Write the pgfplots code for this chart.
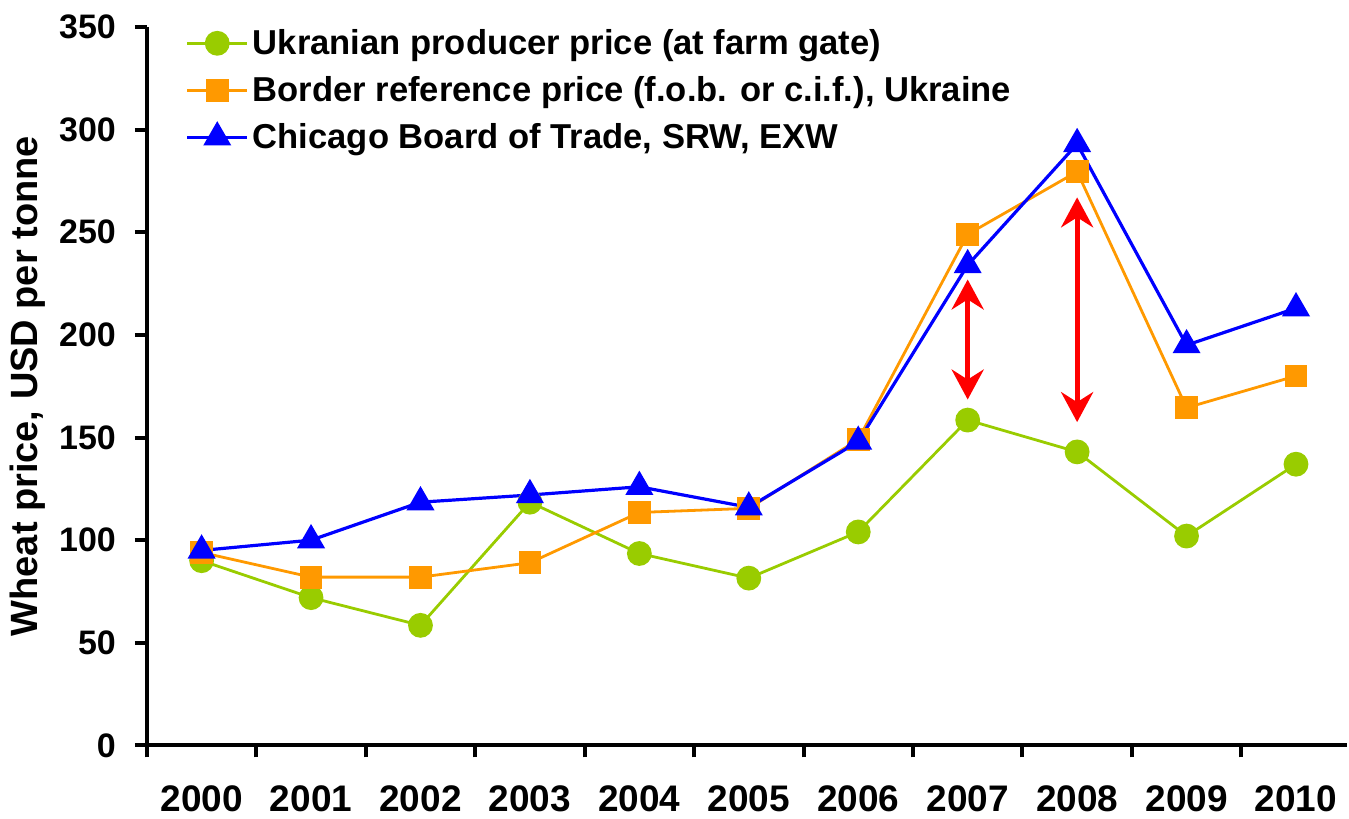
\documentclass[border=0pt]{standalone}
\usepackage{fontspec}
\setmainfont{Liberation Sans}
\usepackage{pgfplots}
\pgfplotsset{compat=1.18}
\usetikzlibrary{arrows.meta}
\definecolor{cgreen}{RGB}{153,204,0}
\definecolor{corange}{RGB}{255,153,0}
\definecolor{cblue}{RGB}{0,0,255}
\definecolor{cred}{RGB}{255,0,0}
\begin{document}
\begin{tikzpicture}
\begin{axis}[
  scale only axis, width=600.5pt, height=359.5pt,
  xmin=-0.5, xmax=10.466, ymin=0, ymax=350,
  axis x line=bottom, axis y line=left,
  axis line style={-, line width=2pt},
  xtick={0,1,2,3,4,5,6,7,8,9,10},
  xticklabels={2000,2001,2002,2003,2004,2005,2006,2007,2008,2009,2010},
  minor xtick={-0.5,0.5,1.5,2.5,3.5,4.5,5.5,6.5,7.5,8.5,9.5},
  ytick={0,50,100,150,200,250,300,350},
  tick align=outside,
  major tick length=6pt, minor tick length=6pt,
  tick style={line width=2pt, black},
  every major x tick/.append style={draw=none},
  yticklabel style={font=\fontsize{17}{20}\selectfont\bfseries, xshift=-6pt},
  xticklabel style={font=\fontsize{18.5}{21}\selectfont\bfseries, yshift=-10.5pt},
  /pgf/number format/assume math mode=true,
  ylabel={Wheat price, USD per tonne},
  ylabel style={font=\fontsize{19}{22}\selectfont\bfseries},
  clip=false,
  legend style={at={(axis description cs:0.027,1.0085)}, anchor=north west,
    draw=none, fill=none, font=\fontsize{17.3}{21}\selectfont\bfseries,
    row sep=5.5pt},
  legend cell align=left,
  legend image code/.code={\draw[mark repeat=2,mark phase=2] plot coordinates {(0pt,0pt) (15pt,0pt) (30pt,0pt)};},
]
\addplot[cgreen, line width=1.4pt, mark=*, mark size=5.5pt, mark options={fill=cgreen, draw=cgreen, solid}]
  coordinates {(0,90) (1,72) (2,58.5) (3,118.5) (4,93.5) (5,81.5) (6,104) (7,158.5) (8,143) (9,102) (10,137)};
\addlegendentry{Ukranian producer price (at farm gate)}
\addplot[corange, line width=1.4pt, mark=square*, mark size=5pt, mark options={fill=corange, draw=corange, solid}]
  coordinates {(0,94) (1,82) (2,82) (3,89) (4,113.5) (5,115.5) (6,149) (7,249) (8,279.5) (9,164.5) (10,180)};
\addlegendentry{Border reference price (f.o.b. or c.i.f.), Ukraine}
\addplot[cblue, line width=1.6pt, mark=triangle*, mark size=6.5pt, mark options={fill=cblue, draw=cblue, solid}]
  coordinates {(0,95) (1,100) (2,118.5) (3,122) (4,126) (5,116) (6,148) (7,234) (8,293) (9,195) (10,213)};
\addlegendentry{Chicago Board of Trade, SRW, EXW}
\draw[cred, line width=2.5pt, {Stealth[length=15pt,width=16pt,inset=5pt]}-{Stealth[length=15pt,width=16pt,inset=5pt]}]
  (axis cs:7,227) -- (axis cs:7,168.5);
\draw[cred, line width=2.5pt, {Stealth[length=15pt,width=16pt,inset=5pt]}-{Stealth[length=15pt,width=16pt,inset=5pt]}]
  (axis cs:8,267) -- (axis cs:8,157.5);
\path (axis description cs:0,0) ++(-73.5pt,-36pt);
\path (axis description cs:0,1) ++(-73.5pt,13.5pt);
\end{axis}
\end{tikzpicture}
\end{document}
